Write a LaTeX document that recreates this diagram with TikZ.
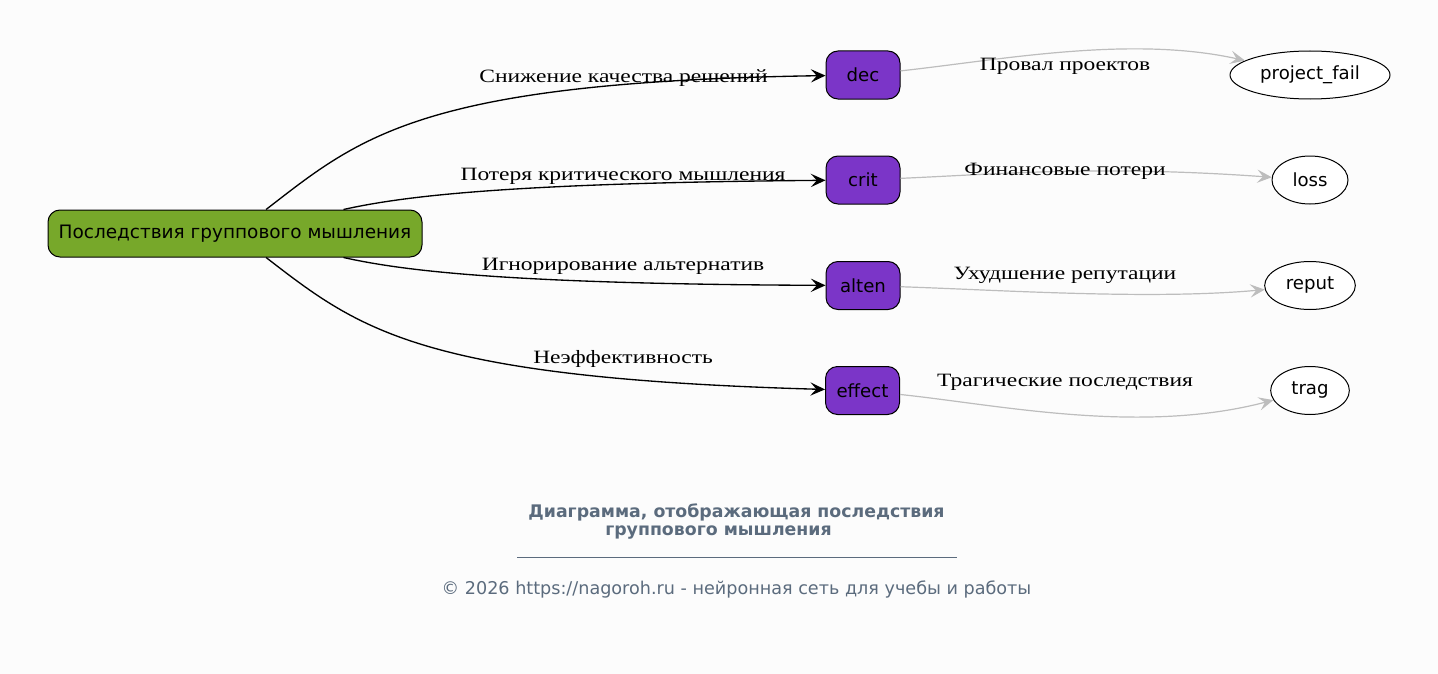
\documentclass[tikz,border=0pt]{standalone}
\usepackage{fontspec}
\setmainfont{DejaVu Sans}
\newfontfamily\labfont[FakeStretch=1.25]{Liberation Serif}
\newfontfamily\nodefont{DejaVu Sans}
\usetikzlibrary{arrows.meta,shapes.geometric}
\definecolor{bg}{HTML}{FCFCFC}
\definecolor{maingreen}{HTML}{77A82A}
\definecolor{purp}{HTML}{7B35C8}
\definecolor{edgegray}{HTML}{BDBDBD}
\definecolor{titlecol}{HTML}{5B6B7D}
\tikzset{
  mainbox/.style={draw=black, line width=0.75pt, fill=maingreen, rounded corners=9pt,
    minimum width=280.5pt, minimum height=35.25pt, inner sep=0pt, font=\nodefont\fontsize{13.85pt}{16pt}\selectfont},
  midbox/.style={draw=black, line width=0.75pt, fill=purp, rounded corners=9pt,
    minimum width=55.5pt, minimum height=36pt, inner sep=0pt, font=\nodefont\fontsize{13.6pt}{16pt}\selectfont},
  endell/.style={draw=black, line width=0.75pt, fill=white, ellipse,
    minimum height=36pt, inner sep=0pt, font=\nodefont\fontsize{13.6pt}{16pt}\selectfont},
  lab/.style={font=\labfont\fontsize{14.1pt}{16pt}\selectfont, inner sep=0pt, anchor=base},
  blackedge/.style={draw=black, line width=1pt, -{Stealth[length=11pt,width=10pt,inset=4.5pt]}},
  grayedge/.style={draw=edgegray, line width=0.9pt, -{Stealth[length=11pt,width=10pt,inset=4.5pt]}},
}
\begin{document}
\begin{tikzpicture}[x=0.75pt,y=-0.75pt]
\fill[bg] (0,0) rectangle (1438,674);
\useasboundingbox (0,0) rectangle (1438,674);

\node[mainbox] (main) at (235,233.5) {Последствия группового мышления};
\node[midbox] (dec) at (863,75) {dec};
\node[midbox] (crit) at (863,180) {crit};
\node[midbox] (alten) at (863,285.5) {alten};
\node[midbox] (effect) at (862.5,390.5) {effect};

\node[endell, minimum width=120pt] (pf) at (1310,75) {project\_fail};
\node[endell, minimum width=57pt] (loss) at (1310,180) {loss};
\node[endell, minimum width=68pt] (reput) at (1310,285.5) {reput};
\node[endell, minimum width=59pt] (trag) at (1310,390.5) {trag};

\draw[blackedge] (main) .. controls (360,137) and (420,82) .. (dec);
\draw[blackedge] (main) .. controls (400,197) and (500,183) .. (crit);
\draw[blackedge] (main) .. controls (400,270) and (500,284) .. (alten);
\draw[blackedge] (main) .. controls (360,330) and (420,378) .. (effect);

\draw[grayedge] (dec) .. controls (1000,60) and (1130,35) .. (pf);
\draw[grayedge] (crit) .. controls (1000,174) and (1100,165) .. (loss);
\draw[grayedge] (alten) .. controls (1000,290) and (1150,300) .. (reput);
\draw[grayedge] (effect) .. controls (1000,405) and (1140,435) .. (trag);

\node[lab] (l1) at (623.5,83) {Снижение качества решений};
\node[lab] (l2) at (623,180) {Потеря критического мышления};
\node[lab] (l3) at (623,270) {Игнорирование альтернатив};
\node[lab] (l4) at (623,363) {Неэффективность};
\node[lab] (l5) at (1065,70) {Провал проектов};
\node[lab] (l6) at (1065,175) {Финансовые потери};
\node[lab] (l7) at (1065,279) {Ухудшение репутации};
\node[lab] (l8) at (1065,386) {Трагические последствия};

\node[font=\bfseries\fontsize{13pt}{15pt}\selectfont, text=titlecol, inner sep=0pt, anchor=base] (t1) at (736.5,517.5) {Диаграмма, отображающая последствия};
\node[font=\bfseries\fontsize{13pt}{15pt}\selectfont, text=titlecol, inner sep=0pt, anchor=base] (t2) at (718.5,535.5) {группового мышления};
\coordinate (ra) at (517,557);
\coordinate (rb) at (957,557);
\draw[titlecol, line width=0.6pt] (ra) -- (rb);
\node[font=\fontsize{13.2pt}{15pt}\selectfont, text=titlecol, inner sep=0pt, anchor=base] (ft) at (736.5,594) {© 2026 https://nagoroh.ru - нейронная сеть для учебы и работы};
\end{tikzpicture}
\end{document}
